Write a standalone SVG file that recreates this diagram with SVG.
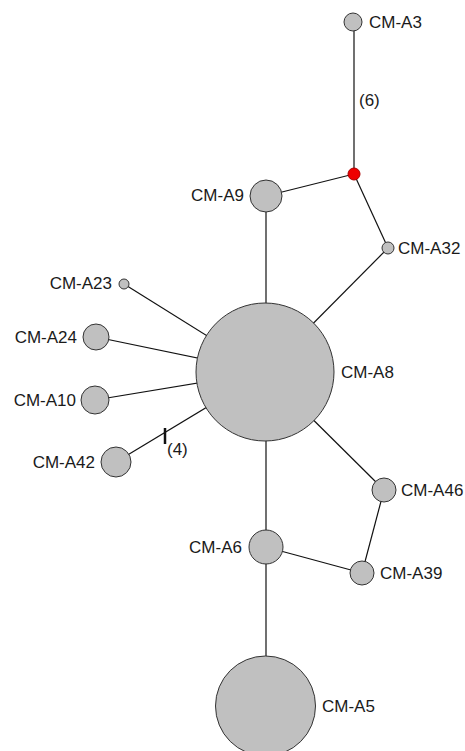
<svg xmlns="http://www.w3.org/2000/svg" width="465" height="751" viewBox="0 0 465 751">
<style>
.n{fill:#c0c0c0;stroke:#333;stroke-width:1}
.r{fill:#ee0000;stroke:#aa0000;stroke-width:1}
.e{stroke:#111;stroke-width:1.2;fill:none}
text{font-family:"Liberation Sans",Arial,sans-serif;font-size:17px;fill:#1a1a1a}
.end{text-anchor:end}
</style>
<rect width="465" height="751" fill="#fff"/>
<g id="edges">
<line class="e" x1="354" y1="22" x2="354" y2="174"/>
<line class="e" x1="266" y1="196" x2="354" y2="174"/>
<line class="e" x1="354" y1="174" x2="388" y2="248"/>
<line class="e" x1="388" y1="248" x2="265" y2="372"/>
<line class="e" x1="266" y1="196" x2="266" y2="372"/>
<line class="e" x1="124" y1="284" x2="265" y2="372"/>
<line class="e" x1="96" y1="337" x2="265" y2="372"/>
<line class="e" x1="95" y1="400" x2="265" y2="372"/>
<line class="e" x1="116" y1="462" x2="265" y2="372"/>
<line class="e" x1="165" y1="428" x2="165" y2="444" style="stroke-width:2.5"/>
<line class="e" x1="265" y1="372" x2="384" y2="490"/>
<line class="e" x1="384" y1="490" x2="362" y2="573"/>
<line class="e" x1="266" y1="547" x2="362" y2="573"/>
<line class="e" x1="266" y1="372" x2="266" y2="547"/>
<line class="e" x1="266" y1="547" x2="266" y2="706"/>
<text x="359" y="106">(6)</text>
<text x="167" y="455">(4)</text>
</g>
<g id="CM-A3"><circle class="n" cx="353" cy="22" r="9"/><text x="369" y="28">CM-A3</text></g>
<g id="median"><circle class="r" cx="354" cy="174" r="6"/></g>
<g id="CM-A9"><circle class="n" cx="266" cy="196" r="16"/><text class="end" x="244" y="201">CM-A9</text></g>
<g id="CM-A32"><circle class="n" cx="388" cy="248" r="6"/><text x="398" y="254">CM-A32</text></g>
<g id="CM-A23"><circle class="n" cx="124" cy="284" r="5"/><text class="end" x="112" y="289">CM-A23</text></g>
<g id="CM-A24"><circle class="n" cx="96" cy="337" r="13"/><text class="end" x="77" y="343">CM-A24</text></g>
<g id="CM-A10"><circle class="n" cx="95" cy="400" r="14"/><text class="end" x="76" y="406">CM-A10</text></g>
<g id="CM-A42"><circle class="n" cx="116" cy="462" r="15"/><text class="end" x="95" y="468">CM-A42</text></g>
<g id="CM-A8"><circle class="n" cx="265" cy="372" r="69"/><text x="341" y="378">CM-A8</text></g>
<g id="CM-A46"><circle class="n" cx="384" cy="490" r="12"/><text x="401" y="496">CM-A46</text></g>
<g id="CM-A6"><circle class="n" cx="266" cy="547" r="17"/><text class="end" x="242" y="553">CM-A6</text></g>
<g id="CM-A39"><circle class="n" cx="362" cy="573" r="12"/><text x="380" y="579">CM-A39</text></g>
<g id="CM-A5"><circle class="n" cx="265.5" cy="706" r="50"/><text x="322" y="712">CM-A5</text></g>
</svg>
